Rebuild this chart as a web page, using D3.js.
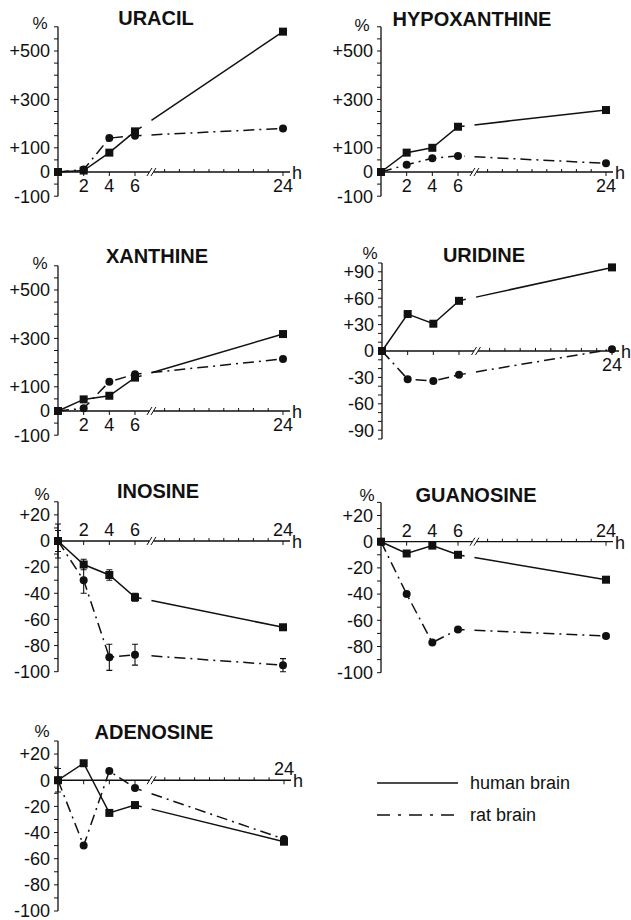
<!DOCTYPE html>
<html>
<head>
<meta charset="utf-8">
<script src="https://cdn.jsdelivr.net/npm/d3@7"></script>
<style>
  body { margin: 0; background: #fff; }
  text { font-family: "Liberation Sans", Arial, sans-serif; fill: #111; }
</style>
</head>
<body>
<div id="vizArea"></div>
<script>
// time points (h)
var hours = [0, 2, 4, 6, 24];

// values, % change vs. control
var uracilHuman = [0, 6, 80, 168, 580];
var uracilRat = [0, 10, 140, 150, 180];
var hypoxanthineHuman = [0, 80, 100, 187, 256];
var hypoxanthineRat = [0, 30, 57, 66, 36];
var xanthineHuman = [0, 48, 63, 138, 318];
var xanthineRat = [0, 11, 121, 152, 215];
var uridineHuman = [0, 42, 31, 57, 95];
var uridineRat = [0, -32, -34, -27, 2];
var inosineHuman = [0, -18, -26, -43, -66];
var inosineRat = [0, -30, -89, -87, -95];
var inosineHumanErr = [8, 4, 4, 3, 1];
var inosineRatErr = [13, 10, 10, 8, 5];
var guanosineHuman = [0, -9, -3, -10, -29];
var guanosineRat = [0, -40, -77, -67, -72];
var adenosineHuman = [0, 13, -25, -19, -47];
var adenosineRat = [0, -50, 7, -6, -45];
var adenosineHumanErr = [9, 0, 0, 0, 0];

// tick labels
var bigTicks = [-100, 0, 100, 300, 500];
var uridineTicks = [-90, -60, -30, 0, 30, 60, 90];
var smallTicks = [-100, -80, -60, -40, -20, 0, 20];
var allHourLabels = [2, 4, 6, 24];
var lastHourLabel = [24];

var legendNames = ["human brain", "rat brain"];

var W = 631, H = 920;
var ink = "#111";
var ratDash = "11,5,2,5";

var canvas = d3.select("#vizArea")
  .append("svg")
    .attr("width", W)
    .attr("height", H);

canvas.append("rect")
  .attr("width", W).attr("height", H)
  .attr("fill", "white");

function fmt(v) { return v > 0 ? "+" + v : String(v); }

var panels = [
  { name: "URACIL", human: uracilHuman, rat: uracilRat, ax: 58, w: 225,
    yDom: [-100, 600], yRange: [196.2, 26.8], minor: 50, ticks: bigTicks,
    xLabels: allHourLabels, above: false, title: [156, 25], pct: [40, 29] },
  { name: "HYPOXANTHINE", human: hypoxanthineHuman, rat: hypoxanthineRat, ax: 381, w: 225,
    yDom: [-100, 600], yRange: [196.2, 26.8], minor: 50, ticks: bigTicks,
    xLabels: allHourLabels, above: false, title: [472, 26], pct: [362, 31] },
  { name: "XANTHINE", human: xanthineHuman, rat: xanthineRat, ax: 58, w: 225,
    yDom: [-100, 600], yRange: [435.2, 265.8], minor: 50, ticks: bigTicks,
    xLabels: allHourLabels, above: false, title: [157, 263], pct: [40, 269] },
  { name: "URIDINE", human: uridineHuman, rat: uridineRat, ax: 382, w: 230,
    yDom: [-100, 100], yRange: [439, 263], minor: 10, ticks: uridineTicks,
    xLabels: lastHourLabel, above: false, title: [484, 262], pct: [370, 259] },
  { name: "INOSINE", human: inosineHuman, rat: inosineRat, ax: 58, w: 225,
    humanErr: inosineHumanErr, ratErr: inosineRatErr,
    yDom: [-100, 30], yRange: [671.7, 501.8], minor: 10, ticks: smallTicks,
    xLabels: allHourLabels, above: true, title: [158, 498], pct: [42, 500] },
  { name: "GUANOSINE", human: guanosineHuman, rat: guanosineRat, ax: 381, w: 225,
    yDom: [-100, 30], yRange: [672.7, 502.4], minor: 10, ticks: smallTicks,
    xLabels: allHourLabels, above: true, title: [476, 502], pct: [367, 501] },
  { name: "ADENOSINE", human: adenosineHuman, rat: adenosineRat, ax: 58, w: 226,
    humanErr: adenosineHumanErr,
    yDom: [-100, 30], yRange: [911, 741], minor: 10, ticks: smallTicks,
    xLabels: lastHourLabel, above: true, title: [154, 739], pct: [42, 737] }
];

panels.forEach(function (p) {
  var g = canvas.append("g");
  var x = d3.scaleLinear().domain([0, 6, 24]).range([p.ax, p.ax + 77, p.ax + p.w]);
  var y = d3.scaleLinear().domain(p.yDom).range(p.yRange);
  var y0 = y(0);
  var xEnd = x(24) + 7;
  var bx = x(8);

  // title and unit
  g.append("text")
    .attr("x", p.title[0]).attr("y", p.title[1])
    .attr("text-anchor", "middle")
    .style("font-size", "20px").style("font-weight", "bold")
    .text(p.name);
  g.append("text")
    .attr("x", p.pct[0]).attr("y", p.pct[1])
    .attr("text-anchor", "middle")
    .style("font-size", "17px")
    .text("%");

  // y axis
  g.append("line")
    .attr("x1", p.ax).attr("x2", p.ax)
    .attr("y1", y(p.yDom[0])).attr("y2", y(p.yDom[1]))
    .attr("stroke", ink).attr("stroke-width", 1.3);
  g.selectAll(".ytick")
    .data(d3.range(p.yDom[0], p.yDom[1] + 0.1, p.minor))
    .enter().append("line")
      .attr("x1", p.ax - 4).attr("x2", p.ax)
      .attr("y1", function (d) { return y(d); })
      .attr("y2", function (d) { return y(d); })
      .attr("stroke", ink).attr("stroke-width", 1);
  g.selectAll(".ylab")
    .data(p.ticks)
    .enter().append("text")
      .attr("x", p.ax - 8)
      .attr("y", function (d) { return y(d); })
      .attr("dy", "0.35em")
      .attr("text-anchor", "end")
      .style("font-size", "18px")
      .text(fmt);

  // x axis with break
  g.append("line")
    .attr("x1", p.ax).attr("x2", bx - 2)
    .attr("y1", y0).attr("y2", y0)
    .attr("stroke", ink).attr("stroke-width", 1.3);
  g.append("line")
    .attr("x1", bx + 2).attr("x2", xEnd)
    .attr("y1", y0).attr("y2", y0)
    .attr("stroke", ink).attr("stroke-width", 1.3);
  [-2, 2].forEach(function (o) {
    g.append("line")
      .attr("x1", bx + o - 2.5).attr("y1", y0 + 4)
      .attr("x2", bx + o + 2.5).attr("y2", y0 - 4)
      .attr("stroke", ink).attr("stroke-width", 1);
  });
  g.selectAll(".xtick")
    .data([2, 4, 6, 24])
    .enter().append("line")
      .attr("x1", function (d) { return x(d); })
      .attr("x2", function (d) { return x(d); })
      .attr("y1", y0).attr("y2", y0 + 4)
      .attr("stroke", ink).attr("stroke-width", 1);
  g.selectAll(".xminor")
    .data(d3.range(9.6, 23, 1.8))
    .enter().append("line")
      .attr("x1", function (d) { return x(d); })
      .attr("x2", function (d) { return x(d); })
      .attr("y1", y0).attr("y2", y0 - 3)
      .attr("stroke", ink).attr("stroke-width", 1);
  g.selectAll(".xlab")
    .data(p.xLabels)
    .enter().append("text")
      .attr("x", function (d) { return x(d); })
      .attr("y", p.above ? y0 - 5 : y0 + 20)
      .attr("text-anchor", "middle")
      .style("font-size", "18px")
      .text(function (d) { return d; });
  g.append("text")
    .attr("x", xEnd + 2).attr("y", y0 + 7)
    .style("font-size", "18px")
    .text("h");

  // series
  var line = d3.line()
    .x(function (d) { return x(d[0]); })
    .y(function (d) { return y(d[1]); });

  function drawSeries(vals, err, dash, shape) {
    var pts = hours.map(function (h, i) { return [h, vals[i]]; });
    var a = pts[3], b = pts[4];
    function at(h) { return [h, a[1] + (b[1] - a[1]) * (h - a[0]) / (b[0] - a[0])]; }
    var segs = [pts.slice(0, 4).concat([at(6.8)]), [at(8.0), b]];
    segs.forEach(function (s) {
      g.append("path")
        .attr("d", line(s))
        .attr("fill", "none")
        .attr("stroke", ink).attr("stroke-width", 1.5)
        .attr("stroke-dasharray", dash);
    });
    if (err) {
      pts.forEach(function (d, i) {
        if (!err[i]) return;
        var cx = x(d[0]), t = y(d[1] + err[i]), bt = y(d[1] - err[i]);
        g.append("path")
          .attr("d", "M" + cx + "," + t + "V" + bt +
            "M" + (cx - 3) + "," + t + "H" + (cx + 3) +
            "M" + (cx - 3) + "," + bt + "H" + (cx + 3))
          .attr("fill", "none").attr("stroke", ink).attr("stroke-width", 1.1);
      });
    }
    if (shape === "square") {
      g.selectAll(null).data(pts).enter().append("rect")
        .attr("x", function (d) { return x(d[0]) - 4; })
        .attr("y", function (d) { return y(d[1]) - 4; })
        .attr("width", 8).attr("height", 8)
        .attr("fill", ink);
    } else {
      g.selectAll(null).data(pts).enter().append("circle")
        .attr("cx", function (d) { return x(d[0]); })
        .attr("cy", function (d) { return y(d[1]); })
        .attr("r", 4)
        .attr("fill", ink);
    }
  }

  drawSeries(p.rat, p.ratErr, ratDash, "circle");
  drawSeries(p.human, p.humanErr, null, "square");
});

// legend
var legend = canvas.append("g");
legendNames.forEach(function (name, i) {
  var ly = 783 + i * 32;
  legend.append("line")
    .attr("x1", 377).attr("x2", 458)
    .attr("y1", ly).attr("y2", ly)
    .attr("stroke", ink).attr("stroke-width", 1.5)
    .attr("stroke-dasharray", i === 1 ? "13,8,3,8" : null);
  legend.append("text")
    .attr("x", 470).attr("y", ly + 6)
    .style("font-size", "18px")
    .text(name);
});
</script>
</body>
</html>
